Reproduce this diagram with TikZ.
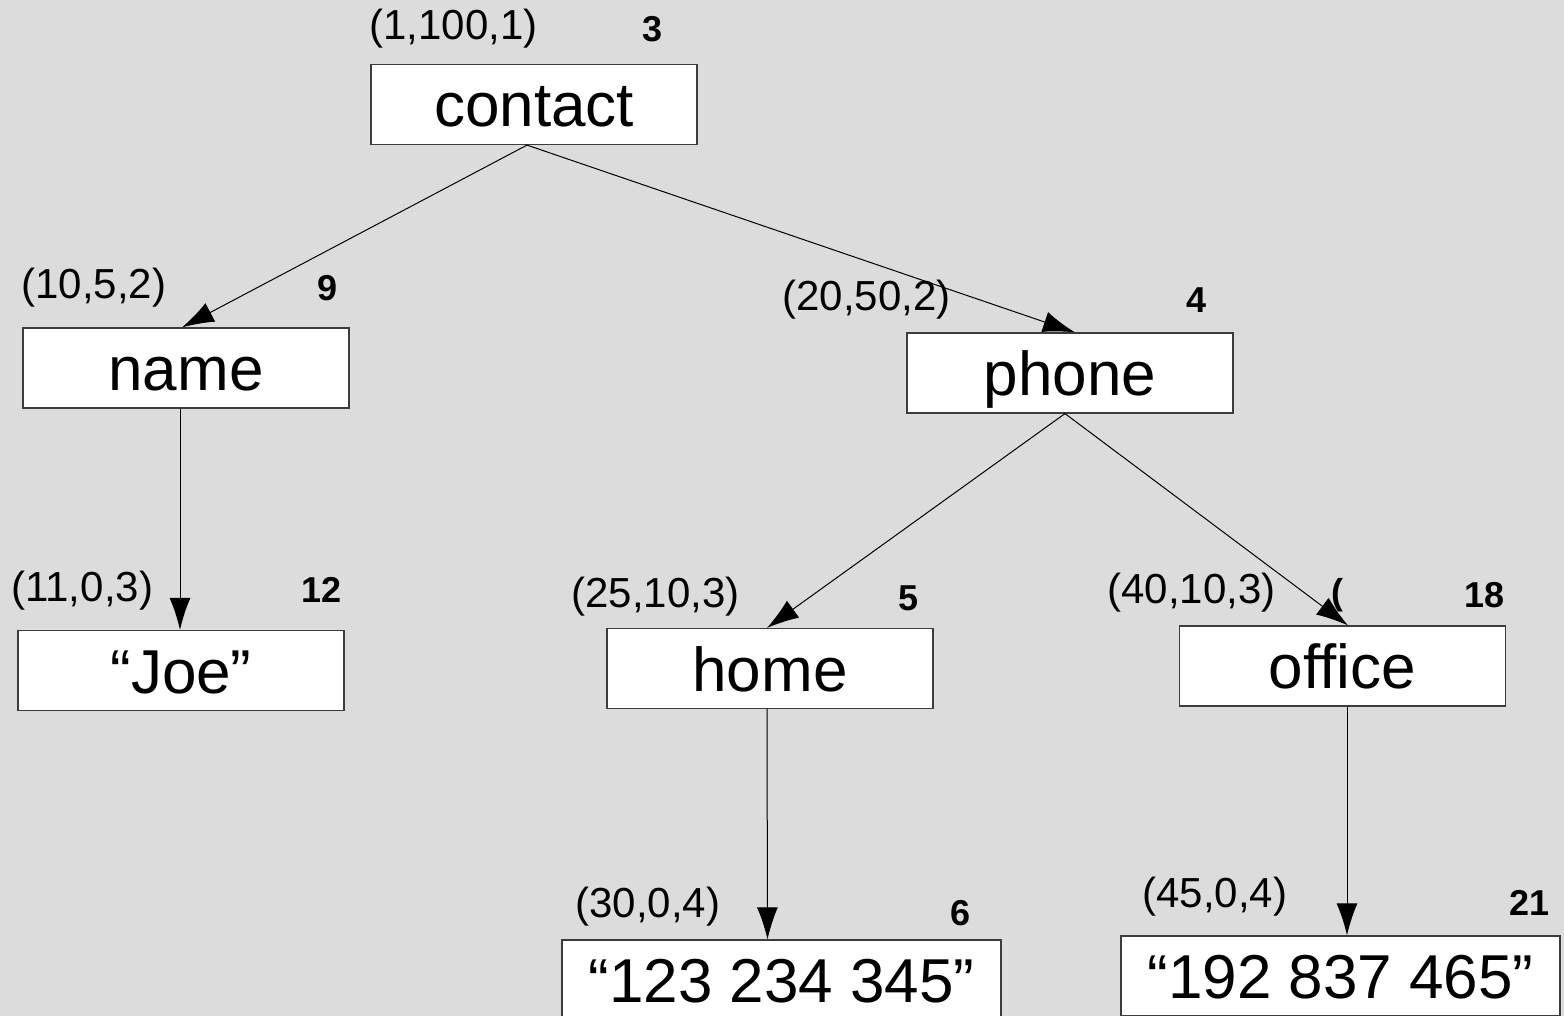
\documentclass[tikz,border=0pt]{standalone}
\usepackage{fontspec}
\setmainfont{Liberation Sans}
\usetikzlibrary{arrows.meta}
\definecolor{bgpanel}{RGB}{220,220,220}
\definecolor{boxline}{RGB}{60,60,60}
\tikzset{
  elem/.style={draw=boxline, line width=0.6pt, fill=white, inner sep=0pt,
    minimum width=163pt, minimum height=40pt,
    text height=26pt, text depth=3.5pt,
    font=\fontsize{31}{31}\selectfont},
  valbox/.style={elem, minimum width=219.5pt},
  triple/.style={inner sep=0pt, anchor=base west, font=\fontsize{21}{21}\selectfont},
  order/.style={inner sep=0pt, anchor=base west, font=\fontsize{18}{18}\selectfont\bfseries},
  edge/.style={line width=0.5pt, -{Latex[length=16pt,width=10.5pt]}}
}
\begin{document}
\begin{tikzpicture}[x=0.5pt,y=-0.5pt]
  \useasboundingbox (0,0) rectangle (1564,1016);
  \clip (0,0) rectangle (1564,1016);
  \fill[bgpanel] (0,0) rectangle (1564,1016);

  % element boxes
  \node[elem] (contact) at (534,104.5) {contact};
  \node[elem] (name)    at (186,368)   {name};
  \node[elem] (phone)   at (1070,373)  {phone};
  \node[elem] (joe)     at (181,670.5) {“Joe”};
  \node[elem] (home)    at (770,668.5) {home};
  \node[elem] (office)  at (1342.5,666) {office};
  \node[valbox] (num1)  at (781.5,980) {“123 234 345”};
  \node[valbox] (num2)  at (1340.5,976) {“192 837 465”};

  % interval labels and node ids
  \node[triple] (t1)  at (369,40)   {(1,100,1)};
  \node[order]  (o1)  at (642,42)   {3};
  \node[triple] (t2)  at (21,299)   {(10,5,2)};
  \node[order]  (o2)  at (317,300)  {9};
  \node[triple] (t3)  at (782,311)  {(20,50,2)};
  \node[order]  (o3)  at (1186,313) {4};
  \node[triple] (t4)  at (11,601)   {(11,0,3)};
  \node[order]  (o4)  at (301,602)  {12};
  \node[triple] (t5)  at (571,607)  {(25,10,3)};
  \node[order]  (o5)  at (898,610)  {5};
  \node[triple] (t6)  at (1107,603) {(40,10,3)};
  \node[order]  (o6p) at (1331,604) {(};
  \node[order]  (o6)  at (1464,607) {18};
  \node[triple] (t7)  at (575,917)  {(30,0,4)};
  \node[order]  (o7)  at (950,925)  {6};
  \node[triple] (t8)  at (1142,907) {(45,0,4)};
  \node[order]  (o8)  at (1509,915) {21};

  % parent-child edges
  \draw[edge] ([xshift=-3.5pt]contact.south) -- ([xshift=-2pt]name.north);
  \draw[edge] ([xshift=-3.5pt]contact.south) -- ([xshift=2.5pt]phone.north);
  \draw[edge] ([xshift=-3pt]name.south) -- ([xshift=-0.5pt]joe.north);
  \draw[edge] ([xshift=-2.5pt]phone.south) -- ([xshift=-1.5pt]home.north);
  \draw[edge] ([xshift=-2.5pt]phone.south) -- ([xshift=2.75pt]office.north);
  \draw[edge] ([xshift=-1.5pt]home.south) -- ([xshift=-7pt]num1.north);
  \draw[edge] ([xshift=2.25pt]office.south) -- ([xshift=3.25pt]num2.north);
\end{tikzpicture}
\end{document}
